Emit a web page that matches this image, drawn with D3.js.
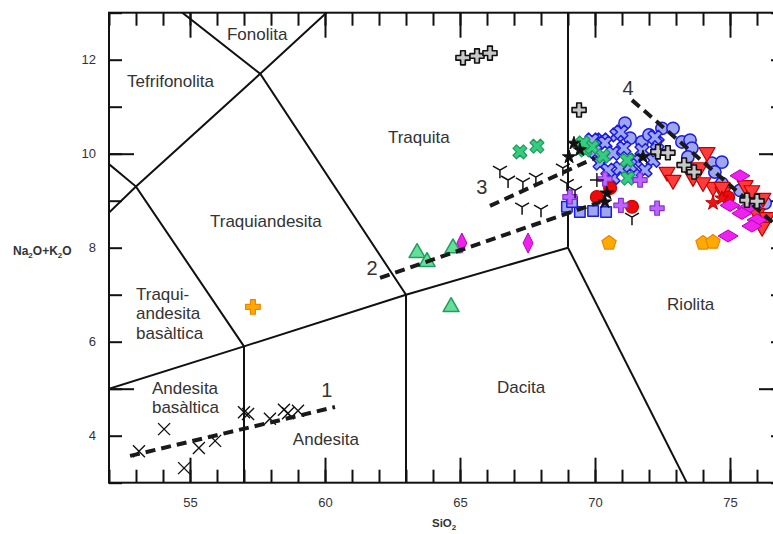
<!DOCTYPE html>
<html><head><meta charset="utf-8">
<script src="https://cdn.jsdelivr.net/npm/d3@7/dist/d3.min.js"></script>
<style>
body{margin:0;background:#fff}
svg{display:block;font-family:"Liberation Sans",Arial,sans-serif}
</style>
</head><body>
<svg id="chart" width="773" height="534"></svg>
<script>
// ---- TAS diagram: Na2O+K2O vs SiO2 ----

// axis ticks
const xMinorTicks = d3.range(52, 78, 1);
const xMajorTicks = [55, 60, 65, 70, 75];
const xTickLabels = [55, 60, 65, 70, 75];
const yMinorTicks = d3.range(3, 14, 1);
const yMajorTicks = [5, 10];
const yTickLabels = [4, 6, 8, 10, 12];

// field boundaries (SiO2, Na2O+K2O)
const boundaries = [
  [[52, 5], [57, 5.9], [63, 7], [69, 8]],
  [[57, 0], [57, 5.9]],
  [[63, 0], [63, 7]],
  [[69, 8], [69, 13]],
  [[69, 8], [73.4, 3]],
  [[57, 5.9], [53, 9.3], [48.4, 11.5]],
  [[49.4, 7.3], [53, 9.3], [57.6, 11.7], [61, 13.5]],
  [[52.5, 14], [57.6, 11.7], [63, 7]]
];

// field names: [SiO2, Na2O+K2O, lines]
const fieldNames = [
  [56.37, 12.42, ["Fonolita"]],
  [52.67, 11.42, ["Tefrifonolita"]],
  [62.33, 10.23, ["Traquita"]],
  [55.74, 8.44, ["Traquiandesita"]],
  [53.0, 6.89, ["Traqui-", "andesita", "basàltica"]],
  [53.59, 4.89, ["Andesita", "basàltica"]],
  [58.81, 3.80, ["Andesita"]],
  [66.37, 4.91, ["Dacita"]],
  [72.67, 6.67, ["Riolita"]]
];

// evolution trends
const trend1 = [[52.78, 3.57], [60.37, 4.61]];
const trend2 = [[62.04, 7.36], [70.19, 8.97]];
const trend3 = [[66.11, 8.89], [70.0, 9.91]];
const trend4 = [[71.37, 11.14], [76.6, 8.53]];
const trendNames = [["1", 60.07, 4.82], ["2", 61.74, 7.42], ["3", 65.81, 9.14], ["4", 71.22, 11.25]];

// samples
const blackCross = [[53.11,3.67],[54.04,4.14],[54.78,3.31],[55.33,3.74],[55.93,3.89],[57.0,4.50],[57.15,4.46],[57.96,4.36],[58.48,4.55],[58.63,4.48],[59.0,4.53]];
const greyPlus = [[65.11,12.04],[65.63,12.08],[66.11,12.14],[69.41,10.93],[72.33,10.04],[72.70,10.02],[73.30,9.76],[73.67,9.61],[75.63,9.01],[76.0,8.99]];
const greenCross = [[67.22,10.04],[67.85,10.16],[69.63,10.08],[69.89,10.14],[70.30,9.95],[71.19,9.86],[71.22,9.48],[69.56,10.23]];
const blackTri = [[66.48,9.65],[66.78,9.44],[67.33,9.40],[67.81,9.50],[67.30,8.87],[68.0,8.82],[68.81,9.70],[68.96,9.37],[69.26,9.22],[71.37,8.65]];
const thinPlus = [[70.07,9.44]];
const greenTriangle = [[63.41,7.89],[63.78,7.70],[64.74,7.99],[64.67,6.74]];
const magentaTall = [[65.07,8.10],[67.52,8.10]];
const magentaWide = [[75.37,9.53],[75.63,8.84],[76.0,8.59],[74.93,8.25],[75.81,8.46],[75.0,8.90],[75.44,8.73]];
const orangePlus = [[57.33,6.74]];
const orangePentagon = [[70.52,8.10],[74.0,8.10],[74.37,8.12]];
const blueCross = [[70.26,10.29],[70.81,10.40],[70.96,10.46],[70.37,10.23],[70.67,10.01],[71.74,10.07],[72.30,10.22],[72.15,9.86],[71.85,9.65],[70.67,9.50],[70.93,9.69],[71.41,9.54],[71.48,9.86],[70.19,9.80],[70.48,9.65],[69.89,10.29],[72.22,10.35],[71.07,10.12],[71.30,9.75],[70.00,10.05]];
const blueCircle = [[71.11,10.65],[71.30,10.33],[71.74,10.25],[72.48,10.54],[72.89,10.54],[73.22,10.25],[73.52,10.29],[73.59,10.12],[73.44,9.93],[74.33,9.80],[74.70,9.82],[74.44,9.61],[74.70,9.37],[75.37,9.22],[75.81,9.01],[76.30,8.95],[69.93,10.25],[72.00,10.40]];
const blueSquare = [[68.96,8.87],[69.44,8.76],[69.93,8.78],[70.41,8.76],[69.15,8.97]];
const redTriangle = [[72.67,9.61],[72.89,9.44],[73.63,9.50],[74.15,10.03],[73.89,9.71],[74.37,9.29],[74.74,9.18],[74.0,9.39],[75.56,9.33],[75.81,9.22],[76.22,9.06],[76.0,8.73],[76.37,8.65],[76.19,8.44],[74.70,9.29]];
const redCircle = [[70.07,9.08],[70.56,9.27],[71.37,8.87],[74.93,9.07]];
const redStar = [[74.37,8.95],[74.70,9.05]];
const blackStar = [[69.22,10.22],[69.04,9.93],[71.78,9.93],[70.44,9.16],[70.37,8.97],[69.44,10.08]];
const purplePlus = [[69.07,9.08],[70.37,9.46],[70.96,8.90],[71.67,9.44],[72.30,8.84]];

const x = d3.scaleLinear().domain([52, 77]).range([109, 784]);
const y = d3.scaleLinear().domain([3, 13]).range([482.7, 12.7]);
const [x0, x1] = x.range(), [y0, y1] = y.range();

const svg = d3.select("#chart");
svg.append("defs").append("clipPath").attr("id", "plot")
  .append("rect").attr("x", x0).attr("y", y1).attr("width", x1 - x0).attr("height", y0 - y1);

// ticks pointing inward on all four sides
function tickAxis(gen, scale, values, size, transform) {
  const g = svg.append("g").attr("transform", transform)
    .call(gen(scale).tickValues(values).tickSize(-size).tickSizeOuter(0).tickFormat(""));
  g.select(".domain").remove();
  g.selectAll(".tick line").attr("stroke", "#111").attr("stroke-width", 2);
}
tickAxis(d3.axisBottom, x, xMinorTicks, 13, `translate(0,${y0})`);
tickAxis(d3.axisBottom, x, xMajorTicks, 25, `translate(0,${y0})`);
tickAxis(d3.axisTop, x, xMinorTicks, 13, `translate(0,${y1})`);
tickAxis(d3.axisTop, x, xMajorTicks, 25, `translate(0,${y1})`);
tickAxis(d3.axisLeft, y, yMinorTicks, 13, `translate(${x0},0)`);
tickAxis(d3.axisLeft, y, yMajorTicks, 25, `translate(${x0},0)`);
tickAxis(d3.axisRight, y, yMinorTicks, 13, `translate(${x1},0)`);
tickAxis(d3.axisRight, y, yMajorTicks, 25, `translate(${x1},0)`);

// tick labels
const xl = svg.append("g").attr("transform", `translate(0,${y0})`)
  .call(d3.axisBottom(x).tickValues(xTickLabels).tickSize(0).tickPadding(15));
const yl = svg.append("g").attr("transform", `translate(${x0},0)`)
  .call(d3.axisLeft(y).tickValues(yTickLabels).tickSize(0).tickPadding(13));
[xl, yl].forEach(g => {
  g.select(".domain").remove();
  g.selectAll("text").attr("font-size", 13).attr("fill", "#333")
    .attr("font-family", "'Liberation Sans',Arial,sans-serif");
});

// frame
svg.append("rect").attr("x", x0).attr("y", y1).attr("width", x1 - x0).attr("height", y0 - y1)
  .attr("fill", "none").attr("stroke", "#111").attr("stroke-width", 2);

const line = d3.line().x(d => x(d[0])).y(d => y(d[1]));

svg.append("g").attr("clip-path", "url(#plot)")
  .selectAll("path").data(boundaries).join("path")
  .attr("d", line).attr("fill", "none").attr("stroke", "#111").attr("stroke-width", 2);

// field names
fieldNames.forEach(([sx, ty, lines]) => {
  const t = svg.append("text").attr("x", x(sx)).attr("y", y(ty))
    .attr("font-size", 17).attr("fill", "#333");
  lines.forEach((s, i) => t.append("tspan").attr("x", x(sx)).attr("dy", i ? 19.5 : 0).text(s));
});

// marker shapes
const sym = (type, size) => d3.symbol(type, size)();
const shapes = {
  thinX: s => `M${-s},${-s}L${s},${s}M${-s},${s}L${s},${-s}`,
  thinPlus: s => `M${-s},0L${s},0M0,${-s}L0,${s}`,
  tri: s => `M0,0L0,${s}M0,0L${-s*0.87},${-s*0.5}M0,0L${s*0.87},${-s*0.5}`,
  fatPlus: s => sym(d3.symbolCross, s),
  fatX: s => sym(d3.symbolCross, s),
  circle: s => sym(d3.symbolCircle, s),
  square: s => sym(d3.symbolSquare, s),
  triUp: s => sym(d3.symbolTriangle, s),
  triDown: s => sym(d3.symbolTriangle, s),
  star: s => sym(d3.symbolStar, s),
  tallDiamond: s => `M0,${-s}L${s*0.5},0L0,${s}L${-s*0.5},0Z`,
  wideDiamond: s => `M${-s},0L0,${-s*0.6}L${s},0L0,${s*0.6}Z`,
  pentagon: s => "M" + d3.range(5).map(k => {
    const a = -Math.PI / 2 + k * 2 * Math.PI / 5;
    return [s * Math.cos(a), s * Math.sin(a)].join(",");
  }).join("L") + "Z"
};
const rotation = { fatX: 45, triDown: 180 };

const series = [
  { data: blueSquare,    shape: "square",     size: 110, fill: "#9ea6ee", stroke: "#1c1ce0", sw: 1.5 },
  { data: blueCircle,    shape: "circle",     size: 120, fill: "#9ea6ee", stroke: "#1c1ce0", sw: 1.5 },
  { data: blueCross,     shape: "fatX",       size: 120, fill: "#9ea6ee", stroke: "#1c1ce0", sw: 1.5 },
  { data: redTriangle,   shape: "triDown",    size: 110, fill: "#ff3a3a", stroke: "#c40000", sw: 1.2 },
  { data: redCircle,     shape: "circle",     size: 130, fill: "#ee0a0a", stroke: "#c40000", sw: 1.2 },
  { data: redStar,       shape: "star",       size: 65,  fill: "#ee1111", stroke: "#c40000", sw: 1 },
  { data: magentaWide,   shape: "wideDiamond",size: 10,  fill: "#ee22ee", stroke: "#b800b8", sw: 1 },
  { data: magentaTall,   shape: "tallDiamond",size: 10,  fill: "#ee22ee", stroke: "#b800b8", sw: 1 },
  { data: greenTriangle, shape: "triUp",      size: 110, fill: "#66dd99", stroke: "#1f9f5f", sw: 1.5 },
  { data: greenCross,    shape: "fatX",       size: 120, fill: "#33cc80", stroke: "#1d9a58", sw: 1.2 },
  { data: purplePlus,    shape: "fatPlus",    size: 110, fill: "#bb66ff", stroke: "#8a30d0", sw: 1.2 },
  { data: orangePlus,    shape: "fatPlus",    size: 120, fill: "#ffaa00", stroke: "#ee8400", sw: 1.2 },
  { data: orangePentagon,shape: "pentagon",   size: 7.5, fill: "#ffaa00", stroke: "#ee8400", sw: 1.2 },
  { data: blackStar,     shape: "star",       size: 55,  fill: "#111",    stroke: "#111",    sw: 1 },
  { data: blackCross,    shape: "thinX",      size: 6,   fill: "none",    stroke: "#111",    sw: 1.4 },
  { data: blackTri,      shape: "tri",        size: 8,   fill: "none",    stroke: "#111",    sw: 1.5 },
  { data: thinPlus,      shape: "thinPlus",   size: 7,   fill: "none",    stroke: "#111",    sw: 1.4 }
];

function drawSeries(s) {
  svg.append("g").selectAll("path").data(s.data).join("path")
    .attr("d", shapes[s.shape](s.size))
    .attr("transform", d => `translate(${x(d[0])},${y(d[1])})` + (rotation[s.shape] ? ` rotate(${rotation[s.shape]})` : ""))
    .attr("fill", s.fill).attr("stroke", s.stroke).attr("stroke-width", s.sw)
    .attr("stroke-linejoin", "round");
}
series.forEach(drawSeries);

// trend lines, above the sample markers
svg.append("g").attr("clip-path", "url(#plot)")
  .selectAll("path").data([trend1, trend2, trend3, trend4]).join("path")
  .attr("d", line).attr("fill", "none").attr("stroke", "#1a1a1a")
  .attr("stroke-width", 4).attr("stroke-dasharray", "10,6");

drawSeries({ data: greyPlus, shape: "fatPlus", size: 110, fill: "#c8c8c8", stroke: "#111", sw: 1.6 });

svg.selectAll("text.trendName").data(trendNames).join("text").attr("class", "trendName")
  .attr("x", d => x(d[1])).attr("y", d => y(d[2])).attr("text-anchor", "middle")
  .attr("font-size", 20).attr("fill", "#333").text(d => d[0]);

// axis titles
const yt = svg.append("text").attr("x", 13).attr("y", 255).attr("font-size", 12)
  .attr("font-weight", "bold").attr("fill", "#333");
yt.append("tspan").text("Na");
yt.append("tspan").attr("font-size", 8).attr("dy", 3).text("2");
yt.append("tspan").attr("dy", -3).text("O+K");
yt.append("tspan").attr("font-size", 8).attr("dy", 3).text("2");
yt.append("tspan").attr("dy", -3).text("O");

const xt = svg.append("text").attr("x", 432).attr("y", 527).attr("font-size", 11.5)
  .attr("font-weight", "bold").attr("fill", "#333");
xt.append("tspan").text("SiO");
xt.append("tspan").attr("font-size", 8).attr("dy", 3).text("2");
</script>
</body></html>
